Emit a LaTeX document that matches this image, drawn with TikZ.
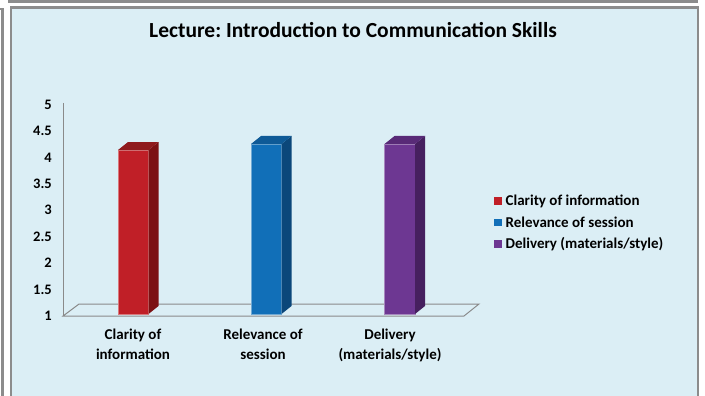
\documentclass[tikz,border=0pt]{standalone}
\usepackage{fontspec}
\setmainfont{Carlito}
\frenchspacing
\definecolor{bgblue}{HTML}{DBEEF5}
\definecolor{framegray}{HTML}{8C8C8C}
\definecolor{axisgray}{HTML}{8A8A8A}
\definecolor{redF}{HTML}{C01F27}
\definecolor{redS}{HTML}{7C1113}
\definecolor{redT}{HTML}{8F1A1D}
\definecolor{bluF}{HTML}{116FB8}
\definecolor{bluS}{HTML}{0B477A}
\definecolor{bluT}{HTML}{0E5A97}
\definecolor{purF}{HTML}{6D3792}
\definecolor{purS}{HTML}{46205F}
\definecolor{purT}{HTML}{582A77}
\newcommand\threedbar[5]{%
  \fill[#3] (#1,314) rectangle ({#1+30.5},#2);
  \draw[#3!60!white, line width=0.5pt] (#1,314) rectangle ({#1+30.5},#2);
  \fill[#4] ({#1+30.5},314) -- ({#1+40.5},306) -- ({#1+40.5},{#2-8}) -- ({#1+30.5},#2) -- cycle;
  \fill[#5] (#1,#2) -- ({#1+10},{#2-8}) -- ({#1+40.5},{#2-8}) -- ({#1+30.5},#2) -- cycle;
}
\tikzset{
  frame/.style={draw=framegray, line width=2.2pt},
  axisline/.style={draw=axisgray, line width=1pt},
  ticklbl/.style={anchor=east, font=\fontsize{14.5}{15}\selectfont\bfseries, inner sep=0pt},
  catlbl/.style={anchor=north, align=center, font=\fontsize{15}{20}\selectfont\bfseries, inner sep=0pt},
  leglbl/.style={anchor=west, font=\fontsize{15}{16}\selectfont\bfseries, inner sep=0pt},
  legsq/.style={minimum size=7.5pt, inner sep=0pt, anchor=center}
}
\begin{document}
\begin{tikzpicture}[x=1pt,y=-1pt]
\useasboundingbox (0,0) rectangle (705,396);
\fill[white] (0,0) rectangle (705,396);
% surrounding frames
\draw[frame] (9,-10) rectangle (697,1.5);
\draw[frame] (-10,9) rectangle (2.5,410);
\draw[frame, fill=bgblue] (11,7.5) rectangle (698,410);
% title
\node[font=\fontsize{21.5}{23}\selectfont\bfseries] (title) at (353,30) {Lecture: Introduction to Communication Skills};
% floor
\draw[axisline] (63,316) -- (464,316) -- (479,304) -- (79,304) -- cycle;
% y axis
\draw[axisline] (63,103) -- (63,316);
\foreach \v/\lab [count=\i] in {5/5,4.5/4.5,4/4,3.5/3.5,3/3,2.5/2.5,2/2,1.5/1.5,1/1}{
  \node[ticklbl] (tick\i) at (52,{316-(\v-1)*52.9}) {\lab};
}
% bars
\threedbar{118}{150}{redF}{redS}{redT}
\threedbar{251}{144}{bluF}{bluS}{bluT}
\threedbar{384.5}{144}{purF}{purS}{purT}
% category labels
\node[catlbl] (cat1) at (133,329) {Clarity of\\information};
\node[catlbl] (cat2) at (263,329) {Relevance of\\session};
\node[catlbl] (cat3) at (390,329) {Delivery\\(materials/style)};
% legend
\node[legsq, fill=redF] (sq1) at (498,201) {};
\node[leglbl] (leg1) at (505.5,201) {Clarity of information};
\node[legsq, fill=bluF] (sq2) at (498,222.5) {};
\node[leglbl] (leg2) at (505.5,222.5) {Relevance of session};
\node[legsq, fill=purF] (sq3) at (498,244) {};
\node[leglbl] (leg3) at (505.5,244) {Delivery (materials/style)};
\end{tikzpicture}
\end{document}
